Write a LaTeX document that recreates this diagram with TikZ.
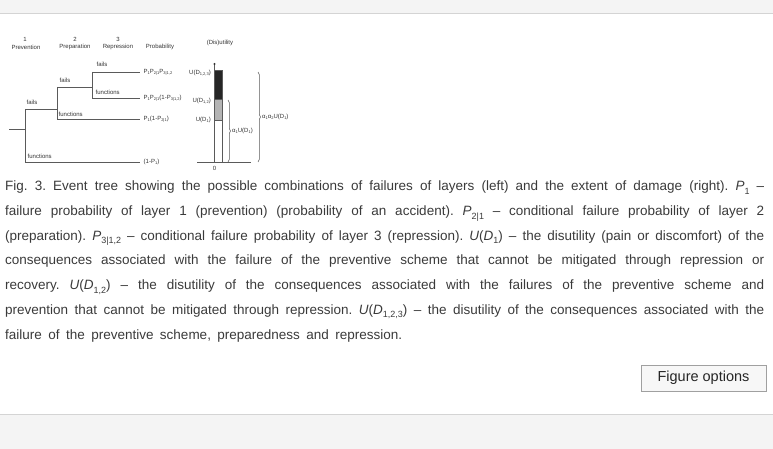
\documentclass[tikz,border=0pt]{standalone}
\usepackage{fontspec}
\setmainfont{Liberation Sans}
\usetikzlibrary{decorations.pathreplacing}
\definecolor{pagegray}{HTML}{F4F4F4}
\definecolor{rulegray}{HTML}{D4D4D4}
\definecolor{captext}{HTML}{3A3A3A}
\definecolor{figline}{HTML}{5A5A5A}
\definecolor{figtext}{HTML}{333333}
\definecolor{bardark}{HTML}{262626}
\definecolor{barlight}{HTML}{B4B4B4}
\definecolor{btnborder}{HTML}{A0A0A0}
\definecolor{btnfill}{HTML}{F7F7F7}
\newcommand\fitline[2][759pt]{\hbox to #1{\spaceskip=0.278em plus 3em minus 0.17em\relax #2}}
\newcommand\csub[1]{\raisebox{-3.6pt}{\fontsize{9}{10}\selectfont #1}}
\newcommand\fsub[1]{\raisebox{-1.2pt}{\fontsize{4}{4.5}\selectfont #1}}
\tikzset{
  figtxt/.style={font=\fontsize{6}{6.5}\selectfont, text=figtext, inner sep=0.5pt},
  treeline/.style={draw=figline, line width=0.6pt},
  capline/.style={anchor=base west, inner sep=0pt, font=\fontsize{13.5}{16}\selectfont\frenchspacing, text=captext},
  bracestyle/.style={draw=figline, line width=0.5pt, decorate, decoration={brace, amplitude=2.5pt}},
}
\begin{document}
\begin{tikzpicture}[x=1pt,y=-1pt]
\useasboundingbox (0,0) rectangle (773,449);
% page bands
\fill[pagegray] (0,0) rectangle (773,13);
\draw[rulegray, line width=1pt] (0,13.5) -- (773,13.5);
\fill[pagegray] (0,415) rectangle (773,449);
\draw[rulegray, line width=1pt] (0,414.5) -- (773,414.5);

% headers
\node[figtxt] (h1) at (25,39) {1};
\node[figtxt] (h1t) at (26,47) {Prevention};
\node[figtxt] (h2) at (75,39) {2};
\node[figtxt] (h2t) at (75,47) {Preparation};
\node[figtxt] (h3) at (118,39) {3};
\node[figtxt] (h3t) at (118,47) {Repression};
\node[figtxt] (hp) at (160,47) {Probability};
\node[figtxt] (hu) at (220,43) {(Dis)utility};

% tree coordinates
\coordinate (r0) at (9,129);
\coordinate (r1) at (25,129);
\coordinate (a1) at (25,109);
\coordinate (a2) at (25,162);
\coordinate (b0) at (57,109);
\coordinate (b1) at (57,87);
\coordinate (b2) at (57,119);
\coordinate (c0) at (92,87);
\coordinate (c1) at (92,72);
\coordinate (c2) at (92,98);

% probability labels
\node[figtxt, anchor=west] (p1) at (143,72) {P\fsub{1}P\fsub{2|1}P\fsub{3|1,2}};
\node[figtxt, anchor=west] (p2) at (143,98) {P\fsub{1}P\fsub{2|1}(1-P\fsub{3|1,2})};
\node[figtxt, anchor=west] (p3) at (143,119) {P\fsub{1}(1-P\fsub{2|1})};
\node[figtxt, anchor=west] (p4) at (143,162) {(1-P\fsub{1})};

% tree lines
\draw[treeline] (r0) -- (r1);
\draw[treeline] (a1) -- (a2);
\draw[treeline] (a1) -- (b0);
\draw[treeline] (b1) -- (b2);
\draw[treeline] (b1) -- (c0);
\draw[treeline] (c1) -- (c2);
\draw[treeline, shorten >=3pt] (c1) -- (c1 -| p1.west);
\draw[treeline, shorten >=3pt] (c2) -- (c2 -| p2.west);
\draw[treeline, shorten >=3pt] (b2) -- (b2 -| p3.west);
\draw[treeline, shorten >=3pt] (a2) -- (a2 -| p4.west);

% branch labels
\node[figtxt, anchor=west] (l1) at (26,102) {fails};
\node[figtxt, anchor=west] (l2) at (59,80) {fails};
\node[figtxt, anchor=west] (l3) at (96,64.5) {fails};
\node[figtxt, anchor=west] (l4) at (95,92) {functions};
\node[figtxt, anchor=west] (l5) at (58,114) {functions};
\node[figtxt, anchor=west] (l6) at (27,156) {functions};

% utility labels
\node[figtxt, anchor=east] (u3) at (211.5,73) {U(D\fsub{1,2,3})};
\node[figtxt, anchor=east] (u2) at (211.5,101) {U(D\fsub{1,2})};
\node[figtxt, anchor=east] (u1) at (211.5,120) {U(D\fsub{1})};

% bar
\coordinate (ax0) at (214.5,162);
\coordinate (axtop) at (214.5,64);
\fill[bardark] (214.5,70) rectangle (222.5,99);
\fill[barlight] (214.5,99) rectangle (222.5,120);
\draw[figline, line width=0.6pt] (214.5,70) rectangle (222.5,162);
\draw[figline, line width=0.5pt] (214.5,99) -- (222.5,99);
\draw[figline, line width=0.5pt] (214.5,120) -- (222.5,120);
\draw[figline, line width=0.6pt] (ax0) -- (axtop);
\fill[figtext] (axtop) circle (1.2pt);
\coordinate (bl0) at (197,162);
\coordinate (bl1) at (251,162);
\draw[figline, line width=0.6pt] (bl0) -- (bl1);
\node[figtxt] (zero) at (214.5,168) {0};

% braces
\draw[bracestyle] (228,100) -- (228,162);
\node[figtxt, anchor=west] (bs) at (231.5,131) {α\fsub{1}U(D\fsub{1})};
\draw[bracestyle] (258,72) -- (258,162);
\node[figtxt, anchor=west] (bb) at (261.5,117) {α\fsub{1}α\fsub{2}U(D\fsub{1})};

% caption
\node[capline] (cap1) at (5,190.8) {\fitline{Fig. 3. Event tree showing the possible combinations of failures of layers (left) and the extent of damage (right). \textit{P}\csub{1} –}};
\node[capline] (cap2) at (5,215.5) {\fitline{failure probability of layer 1 (prevention) (probability of an accident). \textit{P}\csub{2|1} – conditional failure probability of layer 2}};
\node[capline] (cap3) at (5,240.2) {\fitline{(preparation). \textit{P}\csub{3|1,2} – conditional failure probability of layer 3 (repression). \textit{U}(\textit{D}\csub{1}) – the disutility (pain or discomfort) of the}};
\node[capline] (cap4) at (5,264.9) {\fitline{consequences associated with the failure of the preventive scheme that cannot be mitigated through repression or}};
\node[capline] (cap5) at (5,289.6) {\fitline{recovery. \textit{U}(\textit{D}\csub{1,2}) – the disutility of the consequences associated with the failures of the preventive scheme and}};
\node[capline] (cap6) at (5,314.3) {\fitline{prevention that cannot be mitigated through repression. \textit{U}(\textit{D}\csub{1,2,3}) – the disutility of the consequences associated with the}};
\node[capline] (cap7) at (5,339) {\fitline[397pt]{failure of the preventive scheme, preparedness and repression.}};

% button
\node[draw=btnborder, fill=btnfill, line width=0.8pt, minimum width=125pt, minimum height=26pt, inner sep=0pt,
      font=\fontsize{14.5}{17}\selectfont, text=black!85] (btn) at (703.5,378) {Figure options};
\end{tikzpicture}
\end{document}
